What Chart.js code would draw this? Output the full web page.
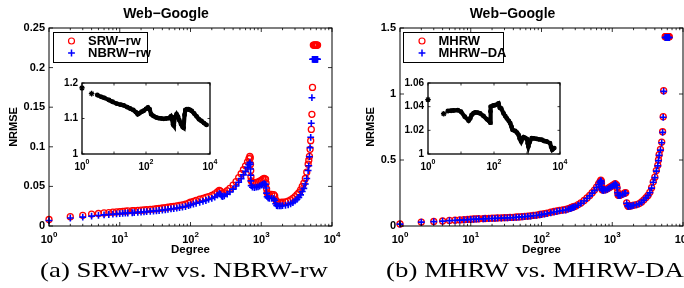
<!DOCTYPE html>
<html>
<head>
<meta charset="utf-8">
<script src="https://cdn.jsdelivr.net/npm/chart.js@4.4.1/dist/chart.umd.min.js"></script>
<style>
  html, body { margin:0; padding:0; background:#ffffff; }
  body { width:684px; height:288px; position:relative; overflow:hidden; }
  canvas { position:absolute; display:block; }
  .caption { position:absolute; top:258px; font-family:"Liberation Serif", serif; font-size:22px; color:#000; white-space:nowrap; text-align:center; line-height:24px; width:320px; transform:scaleX(1.22); transform-origin:50% 50%; }
</style>
</head>
<body>
<canvas id="mainA" width="342" height="260" style="left:0px;top:0px"></canvas>
<canvas id="insetA" width="170" height="110" style="left:50px;top:70px"></canvas>
<canvas id="mainB" width="342" height="260" style="left:342px;top:0px"></canvas>
<canvas id="insetB" width="180" height="110" style="left:392px;top:70px"></canvas>
<div class="caption" style="left:24px">(a) SRW-rw vs. NBRW-rw</div>
<div class="caption" style="left:375px">(b) MHRW vs. MHRW-DA</div>
<script>
// ---------------- data: panel (a) SRW-rw vs. NBRW-rw ----------------
const degreesA = [1,2,3,4,5,6,7,8,9,10,11,12,13,
  15,16,18,20,22,24,27,30,33,36,
  40,44,48,53,58,64,70,77,85,94,
  100,110,120,135,150,165,180,200,220,240,
  255,265,275,285,300,330,360,400,440,480,
  520,560,600,640,670,690,700,705,710,715,
  720,750,800,850,900,950,1000,1050,1100,1150,
  1170,1190,1210,1250,1300,1400,1500,1550,1600,1650,
  1700,1800,1900,2000,2200,2400,2600,2800,3000,3200,
  3400,3600,3800,4000,4200,4400,4600,4700,4800,4900,
  5000,5100,5200,5300,5450,5550,5650,5750,5850,5950,
  6050,6150,6250];
const srwRw = [0.0082,0.0118,0.0135,0.0150,0.0158,0.0165,0.0170,0.0175,0.0178,0.0182,0.0185,0.0188,0.0190,
  0.0193,0.0195,0.0197,0.0200,0.0203,0.0206,0.0210,0.0214,0.0218,0.0222,
  0.0227,0.0232,0.0237,0.0243,0.0248,0.0254,0.0260,0.0267,0.0276,0.0290,
  0.0300,0.0312,0.0322,0.0338,0.0350,0.0362,0.0372,0.0385,0.0405,0.0430,
  0.0450,0.0440,0.0415,0.0410,0.0420,0.0445,0.0475,0.0515,0.0560,0.0610,
  0.0660,0.0710,0.0760,0.0810,0.0850,0.0880,0.0860,0.0780,0.0700,0.0620,
  0.0570,0.0550,0.0545,0.0550,0.0555,0.0565,0.0575,0.0590,0.0600,0.0590,
  0.0540,0.0470,0.0420,0.0405,0.0400,0.0400,0.0395,0.0380,0.0330,0.0305,
  0.0300,0.0298,0.0298,0.0300,0.0305,0.0315,0.0330,0.0350,0.0370,0.0395,
  0.0420,0.0455,0.0500,0.0540,0.0600,0.0680,0.0780,0.0830,0.0880,0.0968,
  0.1077,0.1220,0.1410,0.1750,0.2285,0.2285,0.2285,0.2285,0.2285,0.2285,
  0.2285,0.2285,0.2285];
const nbrwRw = [0.0069,0.0101,0.0112,0.0125,0.0133,0.0140,0.0145,0.0149,0.0152,0.0156,0.0159,0.0162,0.0164,
  0.0167,0.0169,0.0172,0.0175,0.0178,0.0181,0.0185,0.0188,0.0192,0.0196,
  0.0200,0.0205,0.0210,0.0216,0.0220,0.0226,0.0233,0.0238,0.0246,0.0258,
  0.0266,0.0277,0.0287,0.0300,0.0311,0.0322,0.0335,0.0348,0.0365,0.0390,
  0.0410,0.0400,0.0378,0.0372,0.0380,0.0403,0.0430,0.0465,0.0505,0.0552,
  0.0598,0.0645,0.0690,0.0740,0.0775,0.0800,0.0780,0.0720,0.0640,0.0570,
  0.0510,0.0490,0.0485,0.0490,0.0495,0.0505,0.0515,0.0525,0.0535,0.0525,
  0.0480,0.0415,0.0370,0.0355,0.0350,0.0350,0.0345,0.0325,0.0280,0.0258,
  0.0255,0.0254,0.0254,0.0256,0.0260,0.0268,0.0281,0.0297,0.0316,0.0338,
  0.0362,0.0393,0.0435,0.0475,0.0530,0.0600,0.0700,0.0760,0.0875,0.0989,
  0.1120,0.1297,0.1620,0.2105,0.2105,0.2105,0.2105,0.2105,0.2105,0.2105,
  0.2105,0.2105,0.2105];
const insetDegreesA = [1,2,3,4,5,7,9,12,16,20,
  26,32,40,48,55,62,73,85,100,115,
  130,145,170,210,250,300,360,430,520,600,
  650,700,740,800,900,1000,1100,1250,1400,1500,
  1600,1700,1900,2100,2400,2700,3200,3800,4500,5400,
  6500,7800];
const insetRatioA = [1.186,1.170,1.166,1.161,1.158,1.152,1.147,1.142,1.139,1.137,
  1.132,1.128,1.124,1.118,1.112,1.115,1.119,1.122,1.127,1.131,
  1.126,1.112,1.107,1.103,1.101,1.100,1.099,1.100,1.101,1.106,
  1.098,1.083,1.080,1.104,1.112,1.105,1.095,1.084,1.076,1.074,
  1.110,1.124,1.126,1.126,1.124,1.121,1.114,1.106,1.098,1.093,
  1.087,1.082];

// ---------------- data: panel (b) MHRW vs. MHRW-DA ----------------
const degreesB = [1,2,3,4,5,6,7,8,9,10,11,12,13,
  15,16,18,20,22,24,27,30,33,36,
  40,44,48,53,58,64,70,77,85,94,
  100,110,120,135,150,165,180,200,220,240,
  255,265,275,285,300,330,360,400,440,480,
  520,560,600,640,670,690,700,705,710,715,
  720,750,800,850,900,950,1000,1050,1100,1150,
  1170,1190,1210,1250,1300,1400,1500,1550,1600,1650,
  1700,1800,1900,2000,2200,2400,2600,2800,3000,3200,
  3400,3600,3800,4000,4200,4400,4500,4600,4800,5000,
  5150,5250,5330,5600,5700,5800,5900,6000,6100,6200,
  6300,6400];
const mhrw = [0.015,0.030,0.034,0.038,0.042,0.044,0.046,0.048,0.050,0.052,0.053,0.054,0.055,
  0.056,0.057,0.058,0.059,0.060,0.061,0.062,0.063,0.064,0.065,
  0.066,0.068,0.069,0.071,0.073,0.075,0.077,0.080,0.083,0.087,
  0.090,0.094,0.098,0.104,0.110,0.114,0.118,0.122,0.125,0.132,
  0.136,0.140,0.143,0.146,0.150,0.162,0.175,0.193,0.212,0.232,
  0.252,0.272,0.295,0.318,0.335,0.348,0.340,0.325,0.300,0.285,
  0.275,0.272,0.275,0.282,0.290,0.298,0.305,0.313,0.320,0.312,
  0.290,0.255,0.235,0.232,0.235,0.242,0.250,0.252,0.175,0.155,
  0.148,0.152,0.155,0.158,0.162,0.170,0.182,0.198,0.215,0.232,
  0.255,0.290,0.335,0.370,0.420,0.460,0.500,0.540,0.580,0.636,
  0.714,0.828,1.025,1.434,1.434,1.434,1.434,1.434,1.434,1.434,
  1.434,1.434];
const mhrwDa = [0.0143,0.0290,0.0329,0.0367,0.0405,0.0424,0.0444,0.0463,0.0483,0.0502,0.0513,0.0523,0.0533,
  0.0544,0.0554,0.0564,0.0572,0.0581,0.0590,0.0599,0.0609,0.0618,0.0629,
  0.0638,0.0658,0.0669,0.0689,0.0709,0.0729,0.0749,0.0779,0.0798,0.0836,
  0.0865,0.0903,0.0940,0.0997,0.1059,0.1098,0.1139,0.1180,0.1211,0.1282,
  0.1320,0.1361,0.1391,0.1420,0.1461,0.1582,0.1714,0.1892,0.2079,0.2279,
  0.2478,0.2677,0.2912,0.3145,0.3315,0.3439,0.3360,0.3211,0.2964,0.2813,
  0.2715,0.2682,0.2712,0.2781,0.2861,0.2942,0.3014,0.3102,0.3180,0.3095,
  0.2874,0.2525,0.2327,0.2295,0.2322,0.2388,0.2467,0.2487,0.1727,0.1530,
  0.1461,0.1500,0.1530,0.1560,0.1600,0.1679,0.1798,0.1956,0.2125,0.2294,
  0.2521,0.2868,0.3313,0.3661,0.4157,0.4554,0.4953,0.5349,0.5748,0.6302,
  0.7095,0.8235,1.0200,1.4280,1.4280,1.4280,1.4280,1.4280,1.4280,1.4280,
  1.4280,1.4280];
const insetDegreesB = [1,3,4,5,6,8,10,13,17,19,
  21,24,27,32,38,48,61,70,77,78,
  80,95,107,137,150,165,195,220,245,280,
  310,340,365,440,500,555,600,665,720,785,
  880,985,1050,1100,1200,1390,1600,1960,2300,2780,
  3300,3940,4950,5400,5820,6700];
const insetRatioB = [1.046,1.034,1.0363,1.0366,1.0368,1.0371,1.0357,1.0315,1.0282,1.030,
  1.0329,1.0345,1.0352,1.035,1.0343,1.0321,1.0293,1.028,1.0265,1.036,
  1.040,1.041,1.0413,1.0427,1.039,1.0385,1.0343,1.032,1.0301,1.028,
  1.026,1.023,1.0204,1.0195,1.018,1.0162,1.013,1.0106,1.013,1.0142,
  1.0135,1.0128,1.009,1.0064,1.010,1.0134,1.0132,1.0128,1.0124,1.012,
  1.011,1.0106,1.0092,1.006,1.0036,1.005];

// ---------------- tick labels ----------------
const mainYTicksA = [0, 0.05, 0.1, 0.15, 0.2, 0.25];
const mainYTicksB = [0, 0.5, 1, 1.5];
const insetYTicksA = [1, 1.1, 1.2];
const insetYTicksB = [1, 1.02, 1.04, 1.06];
const mainXExponents = [0, 1, 2, 3, 4];
const insetXExponents = [0, 2, 4];
const titleText = 'Web\u2212Google';
const legendA = ['SRW\u2212rw', 'NBRW\u2212rw'];
const legendB = ['MHRW', 'MHRW\u2212DA'];

// ---------------- rendering ----------------
const FONT = '"Liberation Sans", Arial, Helvetica, sans-serif';
function pts(xs, ys) { return xs.map((x, i) => ({ x: x, y: ys[i] })); }

const framePlugin = {
  id: 'frame',
  afterDraw(chart) {
    const o = chart.options.plugins.frame;
    const ctx = chart.ctx, a = chart.chartArea, xs = chart.scales.x, ys = chart.scales.y;
    ctx.save();
    ctx.strokeStyle = '#000';
    ctx.lineWidth = o.tickWidth;
    ctx.beginPath();
    for (const v of o.yTicks) {
      const py = ys.getPixelForValue(v);
      ctx.moveTo(a.left, py); ctx.lineTo(a.left + o.major, py);
      ctx.moveTo(a.right, py); ctx.lineTo(a.right - o.major, py);
    }
    for (let e = 0; e <= 4; e++) {
      for (let m = 1; m <= 9; m++) {
        if (m > 1 && !o.minor) continue;
        const v = m * Math.pow(10, e);
        if (v > xs.max) continue;
        const px = xs.getPixelForValue(v);
        const len = m === 1 ? o.major : o.minorLen;
        ctx.moveTo(px, a.bottom); ctx.lineTo(px, a.bottom - len);
        ctx.moveTo(px, a.top); ctx.lineTo(px, a.top + len);
      }
    }
    ctx.stroke();
    ctx.lineWidth = o.boxWidth;
    ctx.strokeRect(a.left, a.top, a.right - a.left, a.bottom - a.top);
    ctx.fillStyle = '#000';
    ctx.textBaseline = 'alphabetic';
    ctx.textAlign = 'left';
    for (const e of o.xExps) {
      const px = xs.getPixelForValue(Math.pow(10, e));
      ctx.font = 'bold ' + o.baseSize + 'px ' + FONT;
      const wb = ctx.measureText('10').width;
      ctx.font = 'bold ' + o.expSize + 'px ' + FONT;
      const we = ctx.measureText(String(e)).width;
      const x0 = px - (wb + we) / 2;
      ctx.font = 'bold ' + o.baseSize + 'px ' + FONT;
      ctx.fillText('10', x0, a.bottom + o.baseOffset);
      ctx.font = 'bold ' + o.expSize + 'px ' + FONT;
      ctx.fillText(String(e), x0 + wb, a.bottom + o.expOffset);
    }
    ctx.restore();
  }
};

const legendPlugin = {
  id: 'boxLegend',
  afterDraw(chart) {
    const o = chart.options.plugins.boxLegend;
    if (!o || !o.labels) return;
    const ctx = chart.ctx, a = chart.chartArea;
    const x = a.left + o.dx, y = a.top + o.dy;
    ctx.save();
    ctx.fillStyle = '#fff';
    ctx.fillRect(x, y, o.w, o.h);
    ctx.strokeStyle = '#000'; ctx.lineWidth = 1;
    ctx.strokeRect(x + 0.5, y + 0.5, o.w, o.h);
    o.labels.forEach((lab, i) => {
      const ry = y + o.rowY[i];
      const mx = x + o.markerX;
      if (i === 0) {
        ctx.strokeStyle = '#ff0000'; ctx.lineWidth = 1.2;
        ctx.beginPath(); ctx.arc(mx, ry, 3, 0, Math.PI * 2); ctx.stroke();
      } else {
        ctx.strokeStyle = '#0000ff'; ctx.lineWidth = 1.5;
        ctx.beginPath();
        ctx.moveTo(mx - 3.4, ry); ctx.lineTo(mx + 3.4, ry);
        ctx.moveTo(mx, ry - 3.4); ctx.lineTo(mx, ry + 3.4);
        ctx.stroke();
      }
      ctx.fillStyle = '#000';
      ctx.font = 'bold ' + o.fontSize + 'px ' + FONT;
      ctx.textBaseline = 'middle'; ctx.textAlign = 'left';
      ctx.fillText(lab, x + o.textX, ry + 0.5);
    });
    ctx.restore();
  }
};

function mainChart(id, degs, ySrw, yNb, labels, yTicks, yMax, yAxisWidth, yTitlePad, padRight, legendOpts) {
  return new Chart(document.getElementById(id), {
    type: 'scatter',
    data: { datasets: [
      { label: labels[0], data: pts(degs, ySrw), pointStyle: 'circle', pointRadius: 3, borderWidth: 1.3,
        borderColor: '#ff0000', backgroundColor: 'rgba(0,0,0,0)', order: 2, clip: false },
      { label: labels[1], data: pts(degs, yNb), pointStyle: 'cross', pointRadius: 3.4, borderWidth: 1.6,
        borderColor: '#0000ff', backgroundColor: '#0000ff', order: 1, clip: false }
    ] },
    options: {
      responsive: false, animation: false, events: [],
      layout: { padding: { left: 0, right: padRight, top: 0, bottom: 0 }, autoPadding: false },
      plugins: {
        legend: { display: false }, tooltip: { enabled: false },
        title: { display: true, text: titleText, color: '#000',
          font: { family: FONT, size: 14, weight: 'bold', lineHeight: 1.2 }, padding: { top: 6, bottom: 5.2 } },
        frame: { yTicks: yTicks, major: 4, minorLen: 2.2, minor: true, tickWidth: 0.8, boxWidth: 1,
          xExps: mainXExponents, baseSize: 11, expSize: 8, baseOffset: 17, expOffset: 11 },
        boxLegend: legendOpts
      },
      scales: {
        x: { type: 'logarithmic', min: 1, max: 10000,
          grid: { display: false, drawTicks: false }, border: { display: false }, ticks: { display: false },
          title: { display: true, text: 'Degree', color: '#000', font: { family: FONT, size: 11.5, weight: 'bold', lineHeight: 1.2 },
            padding: { top: 0, bottom: 3 } },
          afterFit: s => { s.height = 34; } },
        y: { type: 'linear', min: 0, max: yMax,
          grid: { display: false, drawTicks: false }, border: { display: false },
          ticks: { color: '#000', font: { family: FONT, size: 11, weight: 'bold' }, padding: 4,
            callback: v => String(+(+v).toFixed(3)) },
          afterBuildTicks: s => { s.ticks = yTicks.map(v => ({ value: v })); },
          title: { display: true, text: 'NRMSE', color: '#000', font: { family: FONT, size: 11, weight: 'bold', lineHeight: 1.2 },
            padding: { top: yTitlePad, bottom: 0 } },
          afterFit: s => { s.width = yAxisWidth; } }
      }
    },
    plugins: [framePlugin, legendPlugin]
  });
}

function insetChart(id, degs, ratio, yTicks, yMin, yMax, yAxisWidth, padRight, isolatedBelow) {
  return new Chart(document.getElementById(id), {
    type: 'scatter',
    data: { datasets: [
      { label: 'ratio', data: pts(degs, ratio), showLine: true, borderColor: '#000', borderWidth: 4.2,
        pointStyle: c => (c.parsed && c.parsed.x < isolatedBelow) ? 'star' : 'circle',
        pointRadius: c => (c.parsed && c.parsed.x < isolatedBelow) ? 2.8 : 1.8,
        pointBorderColor: '#000', pointBackgroundColor: '#000', pointBorderWidth: 1.3, clip: 8,
        segment: { borderColor: c => c.p0.parsed.x < isolatedBelow ? 'rgba(0,0,0,0)' : '#000' } }
    ] },
    options: {
      responsive: false, animation: false, events: [],
      layout: { padding: { left: 0, right: padRight, top: 13, bottom: 0 }, autoPadding: false },
      plugins: {
        legend: { display: false }, tooltip: { enabled: false }, title: { display: false },
        frame: { yTicks: yTicks, major: 2.5, minorLen: 0, minor: false, tickWidth: 0.8, boxWidth: 1.3,
          xExps: insetXExponents, baseSize: 10, expSize: 7, baseOffset: 16, expOffset: 10 }
      },
      scales: {
        x: { type: 'logarithmic', min: 1, max: 10000,
          grid: { display: false, drawTicks: false }, border: { display: false }, ticks: { display: false },
          afterFit: s => { s.height = 26; } },
        y: { type: 'linear', min: yMin, max: yMax,
          grid: { display: false, drawTicks: false }, border: { display: false },
          ticks: { color: '#000', font: { family: FONT, size: 10, weight: 'bold' }, padding: 4,
            callback: v => String(+(+v).toFixed(3)) },
          afterBuildTicks: s => { s.ticks = yTicks.map(v => ({ value: v })); },
          afterFit: s => { s.width = yAxisWidth; } }
      }
    },
    plugins: [framePlugin]
  });
}

mainChart('mainA', degreesA, srwRw, nbrwRw, legendA, mainYTicksA, 0.25, 49, 7.5, 10,
  { labels: legendA, dx: 4, dy: 4, w: 94, h: 30, rowY: [9, 21], markerX: 18.5, textX: 35, fontSize: 13 });
mainChart('mainB', degreesB, mhrw, mhrwDa, legendB, mainYTicksB, 1.5, 58, 22.5, 1,
  { labels: legendB, dx: 3, dy: 4, w: 100, h: 30, rowY: [9, 21], markerX: 19, textX: 35.5, fontSize: 13 });
insetChart('insetA', insetDegreesA, insetRatioA, insetYTicksA, 1, 1.2, 32, 10, 2.5);
insetChart('insetB', insetDegreesB, insetRatioB, insetYTicksB, 1, 1.06, 36, 12, 3.5);
</script>
</body>
</html>
